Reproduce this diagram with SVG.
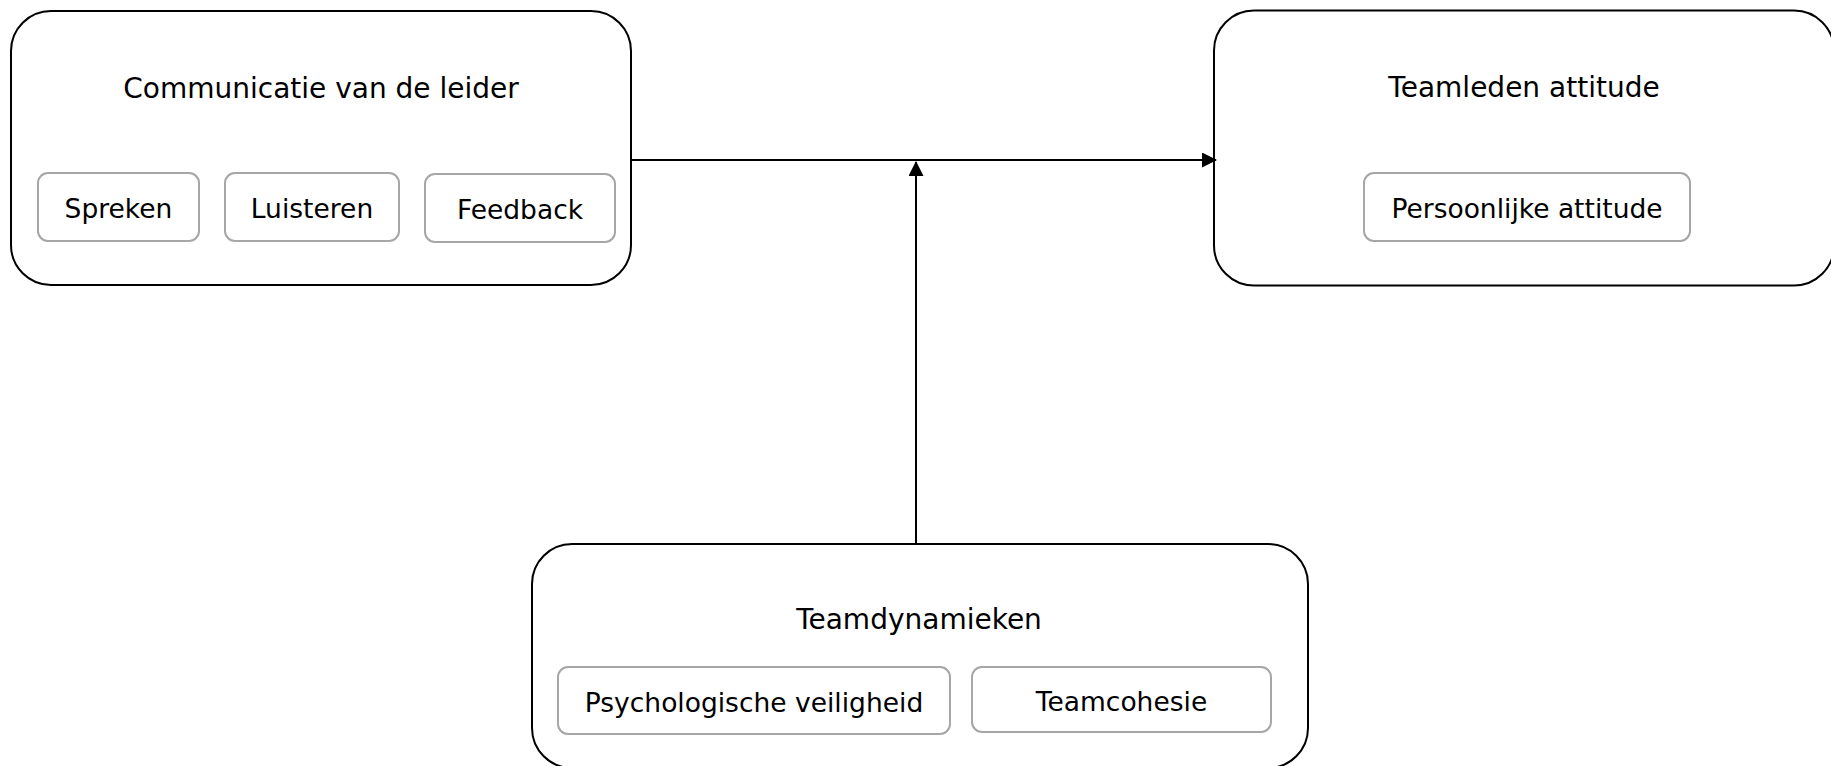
<svg xmlns="http://www.w3.org/2000/svg" width="1831" height="766" viewBox="0 0 1831 766">
<style>
.main{fill:#fff;stroke:#000;stroke-width:2}
.sub{fill:#fff;stroke:#a6a6a6;stroke-width:2}
.title{font-family:"DejaVu Sans",Verdana,sans-serif;font-size:28px;fill:#000;text-anchor:middle}
.lbl{font-family:"DejaVu Sans",Verdana,sans-serif;font-size:26.5px;fill:#000;text-anchor:middle}
.conn{stroke:#000;stroke-width:2;fill:none}
</style>
<defs>
<marker id="arr" markerWidth="15" markerHeight="15" refX="14" refY="7.5" orient="auto" markerUnits="userSpaceOnUse">
<path d="M0,0 L15,7.5 L0,15 Z" fill="#000"/>
</marker>
</defs>
<rect width="1831" height="766" fill="#fff"/>
<g id="communicatie">
<rect class="main" x="11" y="11" width="620" height="274" rx="40" ry="40"/>
<text class="title" x="321" y="98">Communicatie van de leider</text>
<g id="spreken"><rect class="sub" x="38" y="173" width="161" height="68" rx="10"/><text class="lbl" x="118.5" y="218">Spreken</text></g>
<g id="luisteren"><rect class="sub" x="225" y="173" width="174" height="68" rx="10"/><text class="lbl" x="312" y="218">Luisteren</text></g>
<g id="feedback"><rect class="sub" x="425" y="174" width="190" height="68" rx="10"/><text class="lbl" x="520" y="219">Feedback</text></g>
</g>
<g id="teamleden">
<rect class="main" x="1214" y="10.5" width="620" height="275" rx="40" ry="40"/>
<text class="title" x="1524" y="97">Teamleden attitude</text>
<g id="persoonlijke"><rect class="sub" x="1364" y="173" width="326" height="68" rx="10"/><text class="lbl" x="1527" y="218">Persoonlijke attitude</text></g>
</g>
<g id="teamdynamieken">
<rect class="main" x="532" y="544" width="776" height="224" rx="40" ry="40"/>
<text class="title" x="919" y="629">Teamdynamieken</text>
<g id="psych"><rect class="sub" x="558" y="667" width="392" height="67" rx="10"/><text class="lbl" x="754" y="712">Psychologische veiligheid</text></g>
<g id="cohesie"><rect class="sub" x="972" y="667" width="299" height="65" rx="10"/><text class="lbl" x="1121.5" y="711">Teamcohesie</text></g>
</g>
<g id="connectors">
<line class="conn" x1="631" y1="160" x2="1216" y2="160" marker-end="url(#arr)"/>
<line class="conn" x1="916" y1="544" x2="916" y2="162" marker-end="url(#arr)"/>
</g>
</svg>
